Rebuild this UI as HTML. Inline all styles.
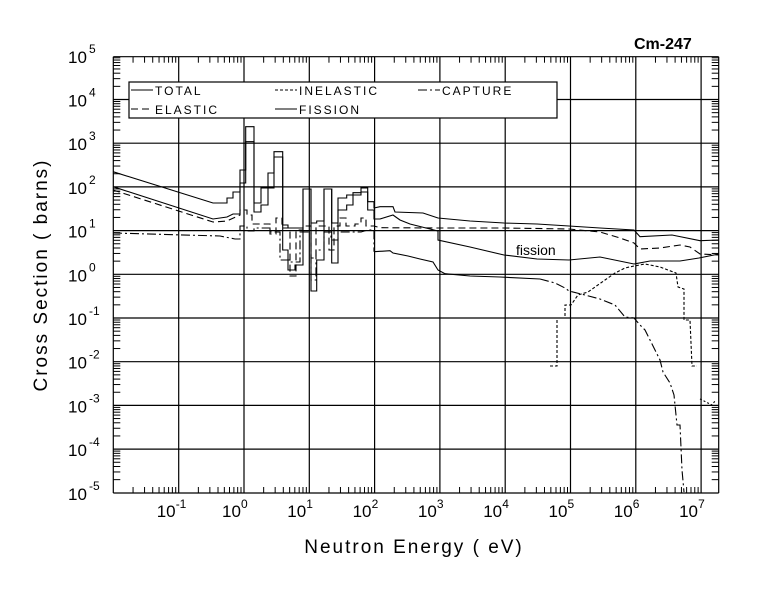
<!DOCTYPE html>
<html><head><style>
body{margin:0;background:#fff}
svg text{font-family:"Liberation Sans",sans-serif;fill:#000}
</style></head><body>
<svg id="s" width="779" height="590" viewBox="0 0 779 590" xmlns="http://www.w3.org/2000/svg">
<rect width="779" height="590" fill="#fff"/>
<g id="grid" stroke="#000" stroke-width="1.2"></g>
<rect x="129" y="82" width="428" height="36" fill="#fff" stroke="#000" stroke-width="1.2"/>
<g fill="none" stroke="#000" stroke-width="1.1">
<polyline points="113,171.7 213,203 227,203 227,198 233,198 233,192 240,192 240,170 245.7,170 245.7,126.7 254,126.7 254,203 261,203 261,188 268,188 268,173 274,173 274,151.7 282.7,151.7 282.7,225 288,225 288,228 303,228 303,189 311,189 311,223 316.7,223 316.7,221 324,221 324,189 331.7,189 331.7,223 338,223 338,198 346.7,198 346.7,195 353,195 353,192.7 361,192.7 361,188 367.7,188 367.7,201.7 374,201.7 374,208 380,206.7 393,206.7 395,212 423,213 438,218 470,221 504,223 537,224 569,226 600,228 634,230 640,236.7 672,235 700,240.7 719,240"/>
<polyline points="113,186.7 213,219 227,217 233,214 240,214 240,183 245.7,183 245.7,141.7 254,141.7 254,212 261,212 261,205 268,205 268,188 274,188 274,157 282.7,157 282.7,250 288,250 288,270 295,270 295,265 303,265 303,189 311,189 311,291 316.7,291 316.7,260 324,260 324,189 331.7,189 331.7,263 338,263 338,210 346.7,210 346.7,205 353,205 353,195 361,195 361,192 367.7,192 367.7,210 374,210 374,219 380,219 393,215 400,220 410,224 438,231 438,240 470,247 504,255 537,259 569,260 600,257 634,264 650,261 680,261 699,258 719,254"/>
<polyline stroke-dasharray="7,4" points="113,190 213,222 227,221 240,215 240,210 247,210 247,215 252,215 252,224 270,224 270,234 276,234 276,218 282,218 282,228 290,228 290,276 296,276 296,230 303,230 303,226 311,226 311,258 316,258 316,226 324,226 324,226 329,226 329,250 334,250 334,226 340,226 340,218 346,218 346,226 355,226 355,224 361,224 361,218 366,218 366,226 374,226 380,227.7 438,228 504,228 569,229 600,232 620,238 634,243 640,249 660,248 680,245 690,247 700,254 719,255"/>
<polyline stroke-dasharray="9,3,2,3" points="113,233 220,236 235,239 240,239 240,226 247,226 247,231 254,231 254,228 270,228 270,232 280,232 280,260 290,260 290,262 300,262 300,232 311,232 311,280 316,280 316,250 324,250 324,232 331,232 331,240 338,240 338,232 361,232 367.7,230 374,230 374,251.7"/>
<polyline points="374,251.7 390,250.7 393,253 408,256 420,259 433,262 438,270 445,273.7 470,276 500,277 540,279"/>
<polyline stroke-dasharray="9,3,2,3" points="540,279 555,283 565,288 569,291 585,295 600,299 615,305 625,317 634,318 640,325 645,330 650,340 655,350 660,360 663,372 670,383 674,395 677,425 680,425 682,470 684,492"/>
<polyline stroke-dasharray="3,2" points="550,366 557,366 557,318 565,318 565,305 571,305 578,295 588,292 595,287 605,280 615,273 625,268 634,266 645,264 660,267 676,273 678,287 684,289 684,320 690,320 692,366 697,366"/>
<polyline stroke-dasharray="2,2" points="700,399 706,402 712,405 715,401"/>
</g>
<g fill="none" stroke="#000" stroke-width="1.1">
<line x1="131" y1="90" x2="153" y2="90"/>
<line x1="275" y1="90" x2="297" y2="90" stroke-dasharray="3,2"/>
<line x1="418" y1="90" x2="440" y2="90" stroke-dasharray="9,3,2,3"/>
<line x1="131" y1="109" x2="153" y2="109" stroke-dasharray="7,4"/>
<line x1="275" y1="109" x2="297" y2="109"/>
</g>
<g font-size="12" letter-spacing="2">
<text x="155" y="95">TOTAL</text>
<text x="299" y="95">INELASTIC</text>
<text x="442" y="95">CAPTURE</text>
<text x="155" y="114">ELASTIC</text>
<text x="299" y="114">FISSION</text>
</g>
<text x="516" y="255" font-size="14">fission</text>
<text x="634" y="49" font-size="16" font-weight="bold">Cm-247</text>
<text x="414" y="553" font-size="19" letter-spacing="2" text-anchor="middle">Neutron Energy ( eV)</text>
<text transform="translate(47,275) rotate(-90)" font-size="19" letter-spacing="2" text-anchor="middle">Cross Section ( barns)</text>
<g id="labels" font-size="17"></g>
</svg>
<script>
const ns="http://www.w3.org/2000/svg";
const L=113.3,R=718.7,T=56.7,B=493;
const X=e=>244+65.3*e, Y=p=>274.3-43.7*p;
const g=document.getElementById('grid'), lb=document.getElementById('labels');
function ln(x1,y1,x2,y2,w){const l=document.createElementNS(ns,'line');l.setAttribute('x1',x1);l.setAttribute('y1',y1);l.setAttribute('x2',x2);l.setAttribute('y2',y2);if(w)l.setAttribute('stroke-width',w);g.appendChild(l);}
function tx(x,y,t,sz,anchor){const e=document.createElementNS(ns,'text');e.setAttribute('x',x);e.setAttribute('y',y);e.setAttribute('font-size',sz);if(anchor)e.setAttribute('text-anchor',anchor);e.textContent=t;lb.appendChild(e);}
ln(L,T,R,T);ln(L,B,R,B);ln(L,T,L,B);ln(R,T,R,B);
for(let d=-1;d<=7;d++){const x=X(d);ln(x,T,x,B);
  tx(x-22,517,"10",17);tx(x-3,508,String(d),12);}
for(let d=-2;d<=7;d++)for(let m=2;m<=9;m++){const x=X(d+Math.log10(m));if(x>L&&x<R){ln(x,T,x,T+6,1);ln(x,B,x,B-6,1);}}
for(let p=-5;p<=5;p++){const y=Y(p);if(p>-5&&p<5)ln(L,y,R,y);
  tx(68,y+7,"10",17);tx(89,y-3,String(p),12);}
for(let p=-5;p<5;p++)for(let m=2;m<=9;m++){const y=Y(p+Math.log10(m));ln(L,y,L+7,y,1);ln(R,y,R-7,y,1);}
</script>
</body></html>
